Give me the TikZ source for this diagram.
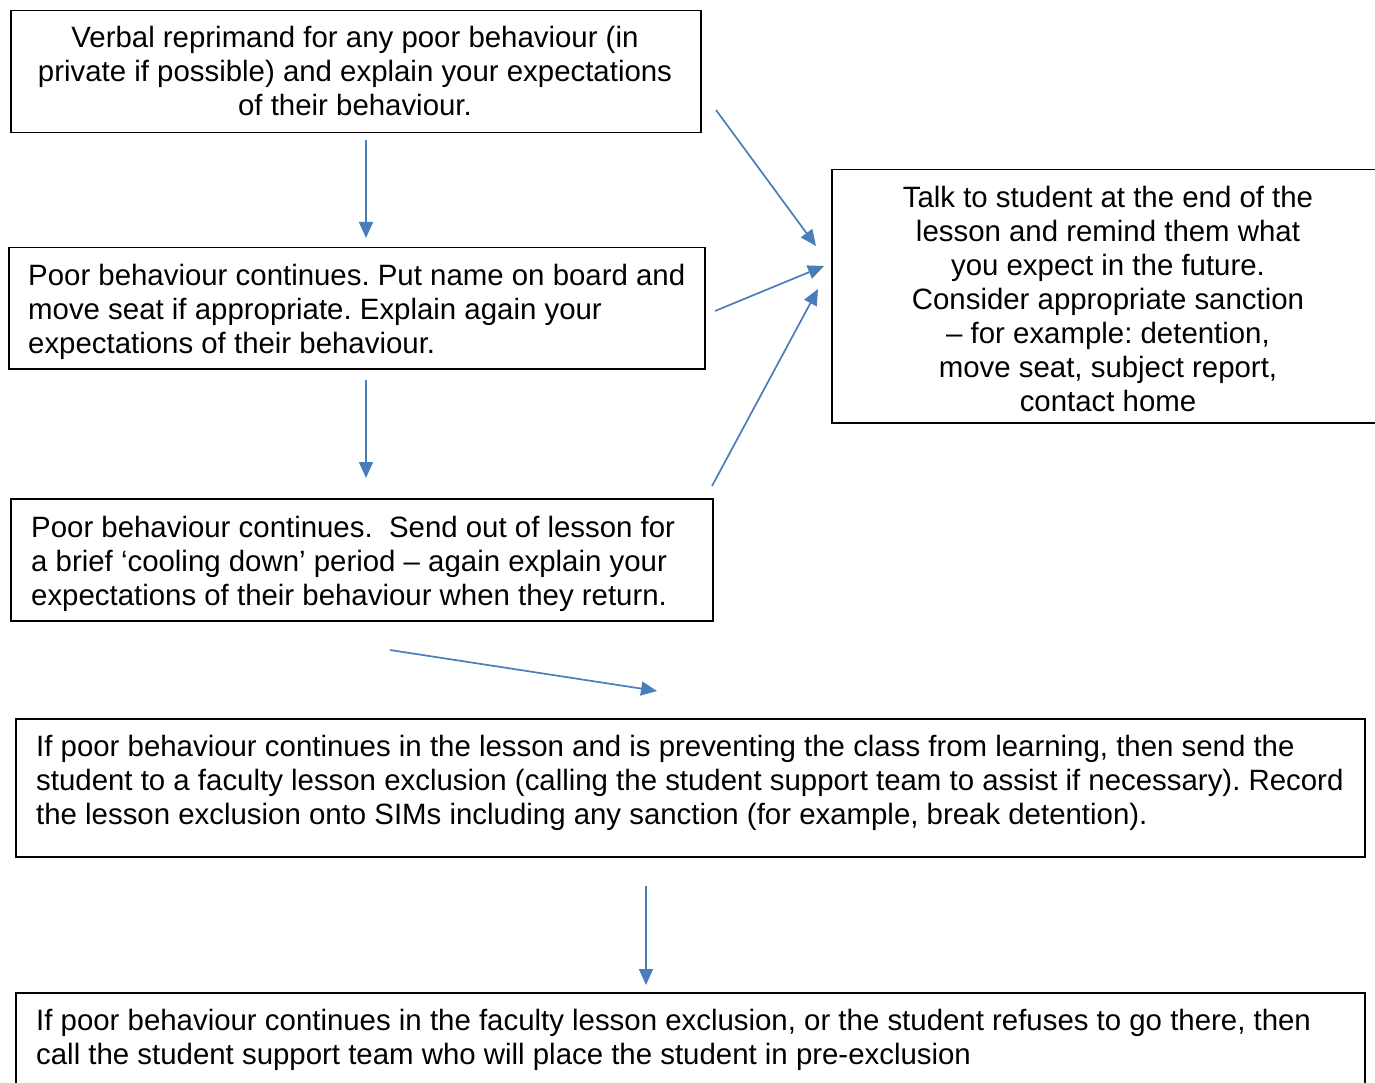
\documentclass[tikz,border=0pt]{standalone}
\usepackage{fontspec}
\setmainfont{Liberation Sans}
\usetikzlibrary{arrows.meta}
\definecolor{arrowblue}{HTML}{4A7EBB}
\frenchspacing
\begin{document}
\begin{tikzpicture}[x=1pt,y=-1pt,
  box/.style={draw=black, line width=1.5pt, anchor=north west, inner sep=0pt},
  txt/.style={font=\fontsize{29.4}{34}\selectfont\frenchspacing, inner sep=0pt, anchor=north west, align=left},
  ctxt/.style={font=\fontsize{29.4}{34}\selectfont\frenchspacing, inner sep=0pt, anchor=north, align=center},
  arr/.style={draw=arrowblue, line width=1.7pt, -{Triangle[length=16pt,width=14pt]}}]
\useasboundingbox (0,0) rectangle (1375,1083);
\fill[white] (0,0) rectangle (1375,1083);

% boxes
\node[box, minimum width=690pt, minimum height=122pt] (b1) at (10,10) {};
\node[box, minimum width=696pt, minimum height=121pt] (b2) at (8,247) {};
\node[box, minimum width=702pt, minimum height=122pt] (b3) at (10,498) {};
\node[box, minimum width=560pt, minimum height=253pt] (b4) at (831,169) {};
\node[box, minimum width=1349pt, minimum height=138pt] (b5) at (15,718) {};
\node[box, minimum width=1349pt, minimum height=130pt] (b6) at (15,992) {};

% texts
\node[ctxt] (t1) at (355,24) {\strut Verbal reprimand for any poor behaviour (in\\private if possible) and explain your expectations\\of their behaviour.};
\node[txt] (t2) at (28,261) {\strut Poor behaviour continues. Put name on board and\\move seat if appropriate. Explain again your\\expectations of their behaviour.};
\node[txt] (t3) at (31,513) {\strut Poor behaviour continues.\ \ Send out of lesson for\\a brief ‘cooling down’ period – again explain your\\expectations of their behaviour when they return.};
\node[ctxt] (t4) at (1108,183) {\strut Talk to student at the end of the\\lesson and remind them what\\you expect in the future.\\Consider appropriate sanction\\– for example: detention,\\move seat, subject report,\\contact home};
\node[txt] (t5) at (36,732) {\strut If poor behaviour continues in the lesson and is preventing the class from learning, then send the\\student to a faculty lesson exclusion (calling the student support team to assist if necessary). Record\\the lesson exclusion onto SIMs including any sanction (for example, break detention).};
\node[txt] (t6) at (36,1006) {\strut If poor behaviour continues in the faculty lesson exclusion, or the student refuses to go there, then\\call the student support team who will place the student in pre-exclusion};

% arrow end points
\coordinate (a1s) at (366,140); \coordinate (a1e) at (366,238);
\coordinate (a2s) at (366,380); \coordinate (a2e) at (366,478);
\coordinate (a3s) at (716,110); \coordinate (a3e) at (816,246);
\coordinate (a4s) at (715,311); \coordinate (a4e) at (824,266);
\coordinate (a5s) at (712,486); \coordinate (a5e) at (818,289);
\coordinate (a6s) at (390,650); \coordinate (a6e) at (657,691);
\coordinate (a7s) at (646,886); \coordinate (a7e) at (646,985);

\draw[arr] (a1s) -- (a1e);
\draw[arr] (a2s) -- (a2e);
\draw[arr] (a3s) -- (a3e);
\draw[arr] (a4s) -- (a4e);
\draw[arr] (a5s) -- (a5e);
\draw[arr] (a6s) -- (a6e);
\draw[arr] (a7s) -- (a7e);
\end{tikzpicture}
\end{document}
